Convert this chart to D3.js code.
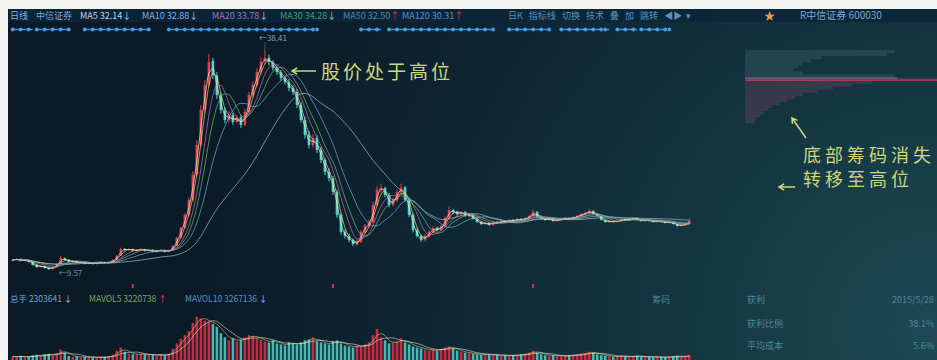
<!DOCTYPE html>
<html><head><meta charset="utf-8">
<script src="https://cdn.jsdelivr.net/npm/d3@7"></script>
<style>html,body{margin:0;padding:0;background:#fff;}svg{display:block;}</style>
</head><body>
<svg id="c" width="937" height="360"></svg>
<script>
// ---------- DATA ----------
const opens=[10.80,10.90,11.00,10.76,10.90,10.60,10.25,9.95,10.10,9.85,
9.70,9.98,10.40,11.10,10.90,10.60,10.74,10.50,10.60,10.38,
10.50,10.36,10.48,10.62,10.50,10.62,10.90,11.45,12.30,12.18,
12.30,12.05,12.20,12.30,12.06,12.20,11.92,12.06,12.20,11.94,
12.20,12.75,13.80,15.10,16.80,18.80,22.10,26.00,30.60,33.90,
37.00,35.10,32.40,30.50,29.20,29.90,29.00,29.60,28.60,30.30,
32.50,33.80,35.50,36.90,37.40,36.80,36.10,35.50,34.70,34.20,
33.40,32.90,31.20,29.20,27.30,25.90,26.90,25.30,24.00,22.40,
21.60,19.80,16.80,14.60,14.00,13.50,12.90,13.25,14.50,15.30,
15.90,18.10,20.00,20.30,19.40,18.10,18.70,19.80,20.40,18.70,
16.80,14.80,14.00,13.50,14.00,14.50,15.10,14.80,15.30,16.40,
17.40,17.20,16.90,17.20,16.60,16.80,16.30,15.90,15.60,15.75,
15.45,15.90,15.70,16.00,15.85,16.15,15.98,16.28,16.10,16.40,
16.66,17.20,16.50,16.25,16.12,16.28,15.98,16.12,16.25,16.40,
16.25,16.50,16.66,16.90,17.05,17.30,16.90,16.66,16.12,15.85,
16.00,15.86,16.00,16.25,16.12,16.26,16.40,16.12,15.98,16.14,
16.00,15.85,16.00,15.86,15.72,15.86,15.60,15.35,15.48,15.60];
const highs=[11.00,11.15,11.08,10.98,10.95,10.66,10.30,10.18,10.15,9.90,
10.02,10.45,11.40,11.20,10.95,10.85,10.80,10.70,10.66,10.56,
10.55,10.56,10.70,10.68,10.70,10.95,11.55,12.50,12.45,12.40,
12.38,12.28,12.42,12.36,12.28,12.30,12.15,12.28,12.26,12.25,
12.85,13.95,15.30,17.00,19.10,22.50,26.60,31.20,34.50,37.90,
37.40,35.50,32.80,30.90,30.40,30.20,29.90,29.90,30.70,32.90,
34.30,36.00,37.40,38.41,37.80,37.10,36.40,35.80,35.10,34.60,
33.80,33.30,31.60,29.70,27.80,27.40,27.30,25.70,24.30,22.90,
21.90,20.10,17.00,14.90,14.30,13.70,13.60,14.80,15.60,16.20,
18.50,20.60,20.90,20.50,19.70,19.00,20.10,20.90,20.60,19.00,
17.00,15.10,14.20,14.30,14.80,15.30,15.30,15.50,16.60,17.90,
17.60,17.35,17.30,17.30,16.95,16.90,16.40,15.95,15.85,15.85,
15.95,15.95,16.10,16.05,16.25,16.25,16.38,16.35,16.50,16.80,
17.50,17.30,16.60,16.35,16.35,16.35,16.20,16.35,16.50,16.45,
16.60,16.75,17.00,17.15,17.55,17.40,16.95,16.70,16.20,16.08,
16.05,16.05,16.35,16.30,16.35,16.48,16.45,16.18,16.20,16.20,
16.05,16.05,16.06,15.92,15.92,15.90,15.65,15.55,15.68,16.30];
const lows=[10.70,10.82,10.68,10.70,10.55,10.15,9.85,9.88,9.75,9.57,
9.65,9.92,10.35,10.80,10.55,10.55,10.42,10.45,10.30,10.32,
10.30,10.30,10.42,10.42,10.45,10.58,10.85,11.40,12.05,12.10,
11.98,11.98,12.12,11.98,12.00,11.85,11.86,12.00,11.86,11.88,
12.12,12.68,13.70,15.00,16.60,18.50,21.80,25.70,30.20,33.60,
34.60,32.00,30.10,28.80,28.90,28.60,28.80,28.20,28.40,30.10,
32.20,33.50,35.20,36.60,36.40,35.70,35.10,34.40,33.90,33.00,
32.50,30.80,28.90,26.80,25.50,25.60,24.90,23.60,22.00,21.20,
19.40,16.40,14.20,13.70,13.20,12.70,12.75,13.10,14.30,15.10,
15.70,17.90,19.70,19.10,17.80,17.90,18.50,19.60,18.50,16.50,
14.50,13.80,13.25,13.30,13.85,14.35,14.60,14.70,15.20,16.30,
16.90,16.70,16.75,16.50,16.50,16.15,15.75,15.45,15.50,15.35,
15.35,15.62,15.60,15.75,15.78,15.90,15.90,16.02,16.02,16.30,
16.55,16.40,16.15,16.00,16.02,15.90,15.90,16.05,16.15,16.15,
16.18,16.40,16.55,16.80,16.95,16.80,16.55,16.05,15.75,15.78,
15.78,15.80,15.92,16.05,16.05,16.18,16.05,15.90,15.90,15.92,
15.78,15.78,15.80,15.65,15.65,15.52,15.25,15.28,15.40,15.52];
const closes=[10.88,11.01,10.75,10.88,10.62,10.23,9.96,10.09,9.83,9.70,
9.96,10.36,11.14,10.88,10.62,10.75,10.49,10.62,10.36,10.49,
10.36,10.49,10.62,10.49,10.62,10.88,11.41,12.32,12.19,12.32,
12.06,12.19,12.32,12.06,12.19,11.93,12.06,12.19,11.93,12.19,
12.72,13.77,15.08,16.78,18.75,22.02,25.96,30.55,33.82,36.84,
35.13,32.51,30.55,29.24,29.89,28.97,29.50,28.58,30.28,32.51,
33.82,35.53,36.84,37.36,36.84,36.05,35.53,34.74,34.22,33.43,
32.91,31.20,29.24,27.27,25.96,26.88,25.30,23.99,22.42,21.63,
19.80,16.78,14.55,14.03,13.50,12.98,13.24,14.55,15.34,15.86,
18.09,20.06,20.32,19.40,18.09,18.75,19.80,20.32,18.75,16.78,
14.81,14.03,13.50,14.03,14.55,15.08,14.81,15.34,16.39,17.44,
17.17,16.91,17.17,16.65,16.78,16.26,15.86,15.60,15.73,15.47,
15.86,15.73,15.99,15.86,16.13,15.99,16.26,16.13,16.39,16.65,
17.17,16.52,16.26,16.13,16.26,15.99,16.13,16.26,16.39,16.26,
16.52,16.65,16.91,17.04,17.30,16.91,16.65,16.13,15.86,15.99,
15.86,15.99,16.26,16.13,16.26,16.39,16.13,15.99,16.13,15.99,
15.86,15.99,15.86,15.73,15.86,15.60,15.34,15.47,15.60,15.99];
// volume, 10k hands
const volumes=[110,95,120,90,100,130,140,120,150,160,
130,170,240,180,120,100,110,90,100,95,
90,85,100,95,110,140,220,280,200,160,
150,140,160,150,130,140,120,150,130,160,
260,360,450,520,600,760,880,840,800,780,
740,680,560,480,420,460,400,430,480,520,
500,460,430,400,380,420,360,340,320,380,
360,340,380,420,440,480,400,380,360,340,
400,420,360,320,300,280,320,300,340,380,
520,640,480,420,360,380,400,460,380,340,
300,280,260,240,220,240,220,260,280,300,
260,220,200,180,170,160,150,140,150,140,
130,140,120,130,120,130,140,150,160,180,
220,180,150,130,120,130,120,110,120,130,
140,150,160,170,200,180,150,130,120,110,
100,110,120,110,100,110,120,100,95,100,
90,100,95,90,100,110,120,100,110,140];
const maLabels=["MA5","MA10","MA20","MA30","MA50","MA120"];
const maValues=["32.14","32.88","33.78","34.28","32.50","30.31"];
const maTrend=["down","down","down","down","up","up"];
const maWindows=[2,3,5,7,11,27];
const volLabels=["总手","MAVOL5","MAVOL10"];
const volValues=["2303641","3220738","3267136"];
const volTrend=["down","up","down"];
const volWindows=[3,6];
const chipPrices=[38.2,37.8,37.4,37.0,36.6,36.2,35.8,35.4,35.0,34.6,34.2,33.8,33.4,33.0,32.6,32.2,31.8,31.4,31.0,30.6,30.2,29.8,29.4,29.0];
const chipAmounts=[78,74,40,34,30,28,25,30,78,100,66,56,46,38,30,26,22,18,14,12,10,8,6,5];
const cursorPrice=34.6;
const signalSegments=[[0,5],[6,14],[18,34],[39,75],[76,76],[87,92],[94,120],[124,134],[137,147],[148,149],[151,156],[157,163],[164,164]];
const periodMarks=[30,80,130];
const highLabel="38.41", lowLabel="9.57";
const rightHeader="日K   指标线   切换   技术   叠   加   跳转   ◀▶  ▾";
const stockTitle="R中信证券 600030";
const note1="股价处于高位";
const note2=["底部筹码消失","转移至高位"];
const infoLeft=["筹码","获利","获利比例","平均成本"];
const infoRight=["2015/5/28","38.1%","5.6%"];

// ---------- DRAW ----------
const svg=d3.select("#c");
const FONT='"Noto Sans CJK SC","Noto Sans",sans-serif';
const N=closes.length;
const defs=svg.append("defs");
const rg=defs.append("radialGradient").attr("id","bg").attr("gradientUnits","userSpaceOnUse")
  .attr("cx",930).attr("cy",330).attr("r",760);
rg.append("stop").attr("offset",0).attr("stop-color","#1d4a55");
rg.append("stop").attr("offset",0.35).attr("stop-color","#143540");
rg.append("stop").attr("offset",0.75).attr("stop-color","#0d2230");
rg.append("stop").attr("offset",1).attr("stop-color","#0a1a26");
svg.append("rect").attr("width",937).attr("height",360).attr("fill","#f4f4f2");
svg.append("rect").attr("x",8).attr("y",9).attr("width",929).attr("height",351).attr("fill","url(#bg)");
svg.append("rect").attr("x",8).attr("y",9).attr("width",929).attr("height",13).attr("fill","#0c2639").attr("opacity",0.85);

const x=d3.scaleBand().domain(d3.range(N)).range([10,692]).padding(0.35);
const cx=i=>x(i)+x.bandwidth()/2;
const y=d3.scaleLinear().domain([9.57,38.41]).range([270,50]);
const yv=d3.scaleLinear().domain([0,950]).range([362,313]);

const upC="#ee3a4e", dnC="#52d2c8";
const isUp=i=>closes[i]>=opens[i];

// signal bead strip
const sg=svg.append("g");
signalSegments.forEach(([a,b])=>{
  sg.append("line").attr("x1",cx(a)).attr("x2",cx(b)).attr("y1",29.5).attr("y2",29.5)
    .attr("stroke","#3e8fd6").attr("stroke-width",1.6);
  sg.selectAll(null).data(d3.range(a,b+1,2)).enter().append("circle")
    .attr("cx",cx).attr("cy",29.5).attr("r",1.9).attr("fill","#4a9ce0");
});

// chip distribution
const chipX=d3.scaleLinear().domain([0,100]).range([0,192]);
const cg=svg.append("g");
const chipH=Math.abs(y(chipPrices[0])-y(chipPrices[1]));
cg.selectAll("rect").data(chipPrices).enter().append("rect")
  .attr("x",745).attr("y",p=>y(p)-chipH/2).attr("height",chipH)
  .attr("width",(p,i)=>chipX(chipAmounts[i]))
  .attr("fill",p=>p>cursorPrice?"rgba(150,175,195,0.14)":"rgba(200,80,120,0.20)");
cg.append("line").attr("x1",745).attr("x2",937).attr("y1",y(cursorPrice)+1).attr("y2",y(cursorPrice)+1)
  .attr("stroke","#cc3e58").attr("stroke-width",1.3);
cg.append("line").attr("x1",745).attr("x2",897).attr("y1",y(cursorPrice)-1).attr("y2",y(cursorPrice)-1)
  .attr("stroke","#a8b0bc").attr("stroke-width",1).attr("opacity",0.6);

// candles
const kg=svg.append("g");
kg.selectAll("line").data(d3.range(N)).enter().append("line")
  .attr("x1",cx).attr("x2",cx).attr("y1",i=>y(highs[i])).attr("y2",i=>y(lows[i]))
  .attr("stroke",i=>isUp(i)?upC:dnC).attr("stroke-width",1);
kg.selectAll("rect").data(d3.range(N)).enter().append("rect")
  .attr("x",i=>x(i)).attr("width",x.bandwidth())
  .attr("y",i=>y(Math.max(opens[i],closes[i])))
  .attr("height",i=>Math.max(1,Math.abs(y(opens[i])-y(closes[i]))))
  .attr("fill",i=>isUp(i)?upC:dnC);

// moving averages
const ma=(arr,w)=>arr.map((_,i)=>d3.mean(arr.slice(Math.max(0,i-w+1),i+1)));
const maColors=["#eef2f4","#e8df5c","#d070d0","#6ad06a","#7ab0dc","#aebfc8"];
const line=d3.line().x((d,i)=>cx(i)).y(d=>y(d)).curve(d3.curveMonotoneX);
maWindows.forEach((w,k)=>{
  svg.append("path").datum(ma(closes,w)).attr("d",line).attr("fill","none")
    .attr("stroke",maColors[k]).attr("stroke-width",0.9).attr("opacity",0.75);
});

// high/low labels
svg.append("line").attr("x1",cx(63)).attr("x2",cx(63)).attr("y1",y(highs[63])).attr("y2",42)
  .attr("stroke","#8ea4b4").attr("stroke-width",0.6).attr("opacity",0.7);
svg.append("text").attr("x",cx(63)-6).attr("y",41).text("←"+highLabel)
  .attr("font-family",FONT).attr("font-size",8).attr("fill","#8ea4b4");
svg.append("text").attr("x",cx(9)+10).attr("y",y(lows[9])+6).text("←"+lowLabel)
  .attr("font-family",FONT).attr("font-size",8).attr("fill","#6f90a8");

// period markers
svg.selectAll(".pm").data(periodMarks).enter().append("rect")
  .attr("x",i=>cx(i)-1).attr("y",284).attr("width",2).attr("height",4).attr("fill","#d23048");

// volume
const vg=svg.append("g");
vg.selectAll("rect").data(d3.range(N)).enter().append("rect")
  .attr("x",i=>x(i)).attr("width",x.bandwidth())
  .attr("y",i=>yv(volumes[i])).attr("height",i=>yv(0)-yv(volumes[i]))
  .attr("fill",i=>isUp(i)?"#e22a40":"#4cc8c0").attr("opacity",0.9);
const vline=d3.line().x((d,i)=>cx(i)).y(d=>yv(d)).curve(d3.curveMonotoneX);
["#e8d860","#e8eef0"].forEach((c,k)=>{
  svg.append("path").datum(ma(volumes,volWindows[k])).attr("d",vline).attr("fill","none")
    .attr("stroke",c).attr("stroke-width",0.8).attr("opacity",0.7);
});

// header text
const hdr=svg.append("text").attr("y",19).attr("font-family",FONT).attr("font-size",9);
hdr.append("tspan").attr("x",10).attr("fill","#7fb0e6").text("日线");
hdr.append("tspan").attr("x",36).attr("fill","#7ea4d6").text("中信证券");
const maHdrColors=["#c6d4e4","#86aee0","#9a74c8","#3f9f72","#5a86a8","#5f8fc4"];
const maHdrX=[80,142,212,280,343,402];
maLabels.forEach((l,k)=>{
  hdr.append("tspan").attr("x",maHdrX[k]).attr("fill",maHdrColors[k]).text(l+" "+maValues[k]);
  hdr.append("tspan").attr("fill",maTrend[k]==="up"?"#ff3040":"#a8c8f0").text(maTrend[k]==="up"?"↑":"↓");
});
svg.append("text").attr("x",508).attr("y",19).attr("font-family",FONT).attr("font-size",9)
  .attr("fill","#5f8eb8").attr("xml:space","preserve").text(rightHeader);
svg.append("text").attr("x",764).attr("y",20).attr("font-family",FONT).attr("font-size",11)
  .attr("fill","#f0a038").text("★");
svg.append("text").attr("x",800).attr("y",19).attr("font-family",FONT).attr("font-size",10)
  .attr("fill","#7fa6c4").text(stockTitle);

// volume header
const vh=svg.append("text").attr("y",302).attr("font-family",FONT).attr("font-size",8.5);
const volHdrColors=["#6ea4d8","#78a868","#5e90c8"];
const volHdrX=[10,89,185];
volLabels.forEach((l,k)=>{
  vh.append("tspan").attr("x",volHdrX[k]).attr("fill",volHdrColors[k]).text(l+" "+volValues[k]);
  vh.append("tspan").attr("fill",volTrend[k]==="up"?"#ff3040":"#a8c8f0").text(volTrend[k]==="up"?" ↑":" ↓");
});

// bottom-right info
const infoPos=[[652,303],[747,303],[747,327],[747,349]];
infoLeft.forEach((t,k)=>svg.append("text").attr("x",infoPos[k][0]).attr("y",infoPos[k][1])
  .attr("font-family",FONT).attr("font-size",9).attr("fill","#4f8496").text(t));
const infoRY=[303,327,349];
infoRight.forEach((t,k)=>svg.append("text").attr("x",934).attr("y",infoRY[k]).attr("text-anchor","end")
  .attr("font-family",FONT).attr("font-size",9).attr("fill","#4f8496").text(t));

// annotations
const noteC="#cdd878";
const arrow=(x1,y1,x2,y2)=>{ // tail (x1,y1) -> head (x2,y2)
  const a=Math.atan2(y2-y1,x2-x1), h=6;
  svg.append("path").attr("d",`M${x1},${y1}L${x2},${y2}M${x2+h*Math.cos(a+2.6)},${y2+h*Math.sin(a+2.6)}L${x2},${y2}L${x2+h*Math.cos(a-2.6)},${y2+h*Math.sin(a-2.6)}`)
    .attr("fill","none").attr("stroke",noteC).attr("stroke-width",1.5);
};
arrow(316,71,292,71);
svg.append("text").attr("x",321).attr("y",79).attr("font-family",FONT).attr("font-size",19)
  .attr("letter-spacing",3).attr("fill",noteC).text(note1);
arrow(806,138,792,118);
arrow(795,187,779,187);
note2.forEach((t,k)=>svg.append("text").attr("x",803).attr("y",162+k*24).attr("font-family",FONT)
  .attr("font-size",18).attr("letter-spacing",4).attr("fill",noteC).text(t));
</script>
</body></html>
